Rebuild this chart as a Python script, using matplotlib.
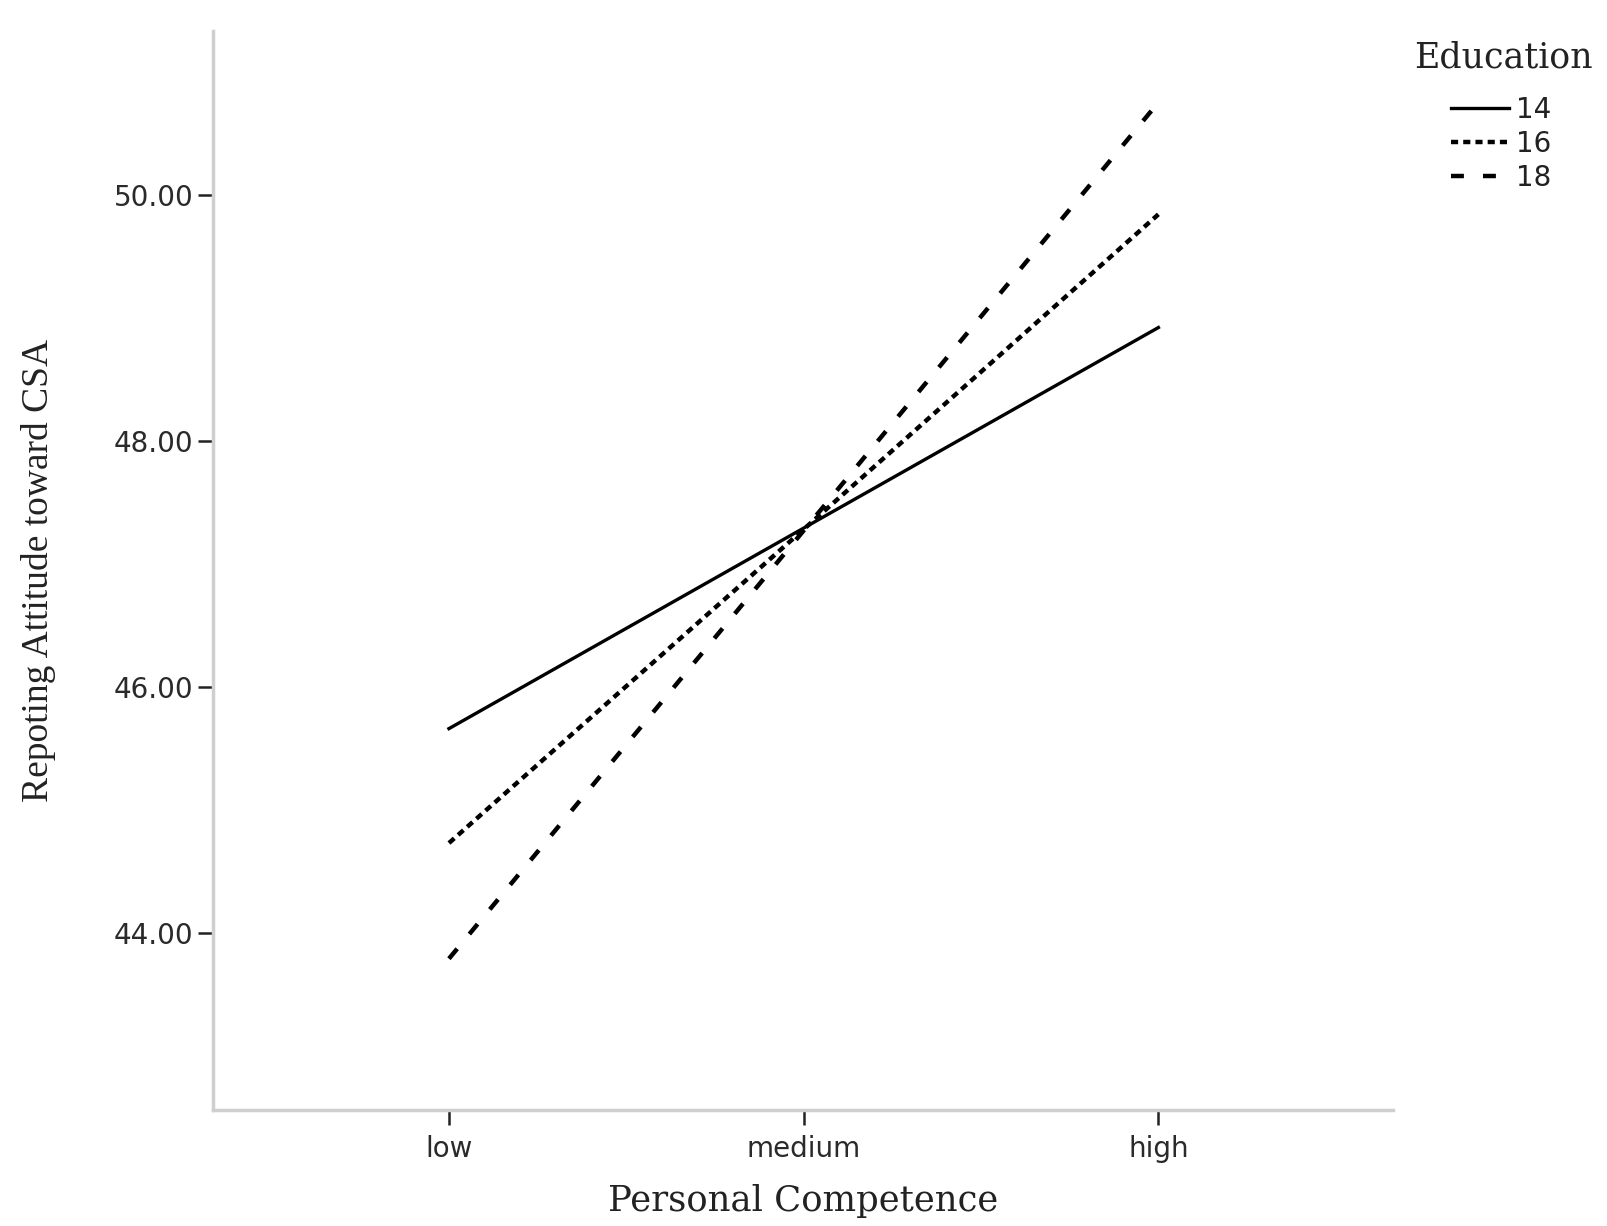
import numpy as np
import matplotlib
matplotlib.use("Agg")
import matplotlib.pyplot as plt

# values
levels = ["low", "medium", "high"]
edu_labels = ["14", "16", "18"]
edu14 = [45.66, 47.29, 48.92]
edu16 = [44.73, 47.28, 49.84]
edu18 = [43.79, 47.27, 50.75]
yticks = [44.0, 46.0, 48.0, 50.0]

fig = plt.figure(figsize=(16.08, 12.26), dpi=100)
ax = fig.add_axes([0.1325, 0.0946, 0.7335, 0.8801])

x = np.arange(len(levels))
ax.plot(x, edu14, color="black", lw=2.4, linestyle="-", label=edu_labels[0])
ax.plot(x, edu16, color="black", lw=3.2, linestyle=(0, (1.6, 1.15)), label=edu_labels[1])
ax.plot(x, edu18, color="black", lw=3.2, linestyle=(0, (2.9, 4.3)), label=edu_labels[2])

ax.set_xlim(-0.665, 2.66)
ax.set_ylim(42.56, 51.33)
ax.set_xticks(x)
ax.set_xticklabels(levels)
ax.set_yticks(yticks)
ax.set_yticklabels(["%.2f" % v for v in yticks])

for s in ["top", "right"]:
    ax.spines[s].set_visible(False)
for s in ["left", "bottom"]:
    ax.spines[s].set_color("#cfcfcf")
    ax.spines[s].set_linewidth(2.5)

ax.tick_params(axis="both", direction="out", length=11, width=1.8, color="#222222",
               labelsize=20, labelcolor="#2a2a2a")
ax.tick_params(axis="x", pad=7)
ax.tick_params(axis="y", pad=3)
for lab in ax.get_xticklabels() + ax.get_yticklabels():
    lab.set_family("DejaVu Sans")

ax.set_xlabel("Personal Competence", family="DejaVu Serif", fontsize=25.5, labelpad=15,
              color="#222222")
ax.set_ylabel("Repoting Attitude toward CSA", family="Liberation Serif", fontsize=27,
              labelpad=42, color="#222222")

fig.text(1414 / 1608, 1 - 58 / 1226, "Education", family="DejaVu Serif", fontsize=25,
         va="center", ha="left", color="#222222")
leg = ax.legend(loc="upper left", bbox_to_anchor=(1437 / 1608, 1 - 82 / 1226),
                bbox_transform=fig.transFigure, frameon=False, fontsize=20,
                handlelength=2.1, handletextpad=0.25, labelspacing=0.21, borderpad=0)
for t in leg.get_texts():
    t.set_family("DejaVu Sans")
    t.set_color("#222222")

fig.savefig("out.png", dpi=100)
